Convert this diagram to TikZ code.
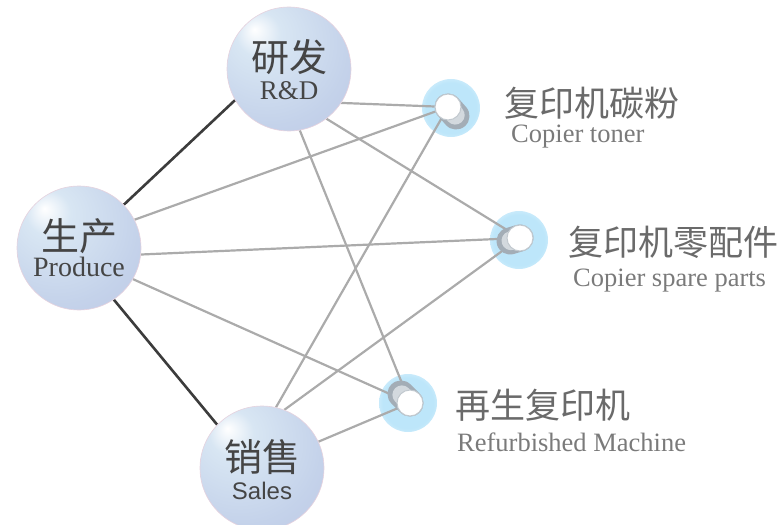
\documentclass[tikz,border=0pt]{standalone}
\usepackage{fontspec}
\setmainfont{Liberation Serif}
\newfontfamily\cjk{Noto Sans CJK SC}
\newfontfamily\latinsans{Liberation Sans}
\usetikzlibrary{positioning}

\definecolor{orbA}{HTML}{D8E6F3}
\definecolor{orbB}{HTML}{C4D2EA}
\definecolor{orbC}{HTML}{BAC2E2}
\definecolor{orbD}{HTML}{D2BFD8}
\definecolor{orbrim}{HTML}{E6D2DE}
\definecolor{glowA}{HTML}{BDE6FA}
\definecolor{linkgray}{HTML}{ABABAB}
\definecolor{tiegray}{HTML}{3C3C3C}
\definecolor{textdark}{HTML}{454545}
\definecolor{textcn}{HTML}{6A6A6A}
\definecolor{texten}{HTML}{7A7A7A}
\definecolor{knobdark}{HTML}{A3ADB6}
\definecolor{knoblight}{HTML}{D3D9DE}
\definecolor{knobedge}{HTML}{C2C9CF}

\pgfdeclareradialshading{orb}{\pgfpoint{-14bp}{16bp}}{color(0bp)=(white);color(9bp)=(orbA);color(32bp)=(orbB);color(55bp)=(orbC);color(66bp)=(orbD);color(75bp)=(orbD)}
\pgfdeclareradialshading{glow}{\pgfpoint{0bp}{0bp}}{color(0bp)=(glowA);color(22bp)=(glowA);color(40bp)=(white);color(50bp)=(white)}

\pgfdeclarelayer{glowlayer}
\pgfdeclarelayer{wires}
\pgfsetlayers{glowlayer,wires,main}

\begin{document}
\begin{tikzpicture}[x=1pt,y=-1pt,
  orb/.style={circle,minimum size=124pt,inner sep=0pt,shade,shading=orb,draw=orbrim,line width=0.6pt},
  knob/.style={circle,minimum size=26pt,inner sep=0pt,fill=white,draw=knobedge,line width=1pt},
  link/.style={draw=linkgray,line width=2.2pt},
  tie/.style={draw=tiegray,line width=2.6pt},
  orbcn/.style={font=\cjk\fontsize{38}{40}\selectfont,text=textdark,inner sep=0pt},
  orben/.style={font=\fontsize{27}{30}\selectfont,text=textdark,inner sep=0pt},
  itemcn/.style={anchor=west,font=\cjk\fontsize{35}{37}\selectfont,text=textcn,inner sep=0pt},
  itemen/.style={anchor=west,font=\fontsize{26.5}{29}\selectfont,text=texten,inner sep=0pt}]
  \useasboundingbox (0,0) rectangle (783,524);
  \clip (0,0) rectangle (783,524);

  \node[orb] (rd) at (289,69) {};
  \node[orb] (pr) at (79,248) {};
  \node[orb] (sa) at (262,468) {};
  \node[orbcn] at ([yshift=12pt]rd.center) {研发};
  \node[orben] at ([yshift=-22pt]rd.center) {R\&D};
  \node[orbcn] at ([yshift=12pt]pr.center) {生产};
  \node[orben,font=\fontsize{28}{30}\selectfont] at ([yshift=-19pt]pr.center) {Produce};
  \node[orbcn] at ([yshift=11pt]sa.center) {销售};
  \node[orben,font=\latinsans\fontsize{24}{28}\selectfont] at ([yshift=-23pt]sa.center) {Sales};

  \node[knob] (toner) at (448,107) {};
  \node[knob] (spare) at (520,238) {};
  \node[knob] (refurb) at (410,403) {};

  \node[itemcn] (tonercn) at (504,103) {复印机碳粉};
  \node[itemen] at (511,137) {Copier toner};
  \node[itemcn] (sparecn) at (568,242) {复印机零配件};
  \node[itemen] at (573,281) {Copier spare parts};
  \node[itemcn] (refurbcn) at (455,405) {再生复印机};
  \node[itemen] at (457,442) {Refurbished Machine};

  \begin{pgfonlayer}{glowlayer}
    \foreach \k/\dx/\dy in {toner/3/1,spare/-1/2,refurb/-2/0}
      \shade[shading=glow] ([shift={(\dx,\dy)}]\k.center) circle (29);
  \end{pgfonlayer}

  \begin{pgfonlayer}{wires}
    \draw[tie] (rd.210) -- (pr.44);
    \draw[tie] (pr.-56) -- (sa.136);
    \draw[link] (rd.-33) -- (toner);
    \draw[link] (rd.-53) -- (spare);
    \draw[link] (rd.-80) -- (refurb);
    \draw[link] (pr.27) -- (toner);
    \draw[link] (pr.-6) -- (spare);
    \draw[link] (pr.-30) -- (refurb);
    \draw[link] (sa.77) -- (toner);
    \draw[link] (sa.69) -- (spare);
    \draw[link] (sa.25) -- (refurb);
    \foreach \k/\dx/\dy in {toner/8/9,spare/-10/3,refurb/-9/-9} {
      \draw[knobdark,line width=27pt,line cap=round] (\k.center) -- ++(\dx,\dy);
      \draw[knoblight,line width=19pt,line cap=round] ([shift={(0.3*\dx,0.3*\dy)}]\k.center) -- ++(0.6*\dx,0.6*\dy);
    }
  \end{pgfonlayer}
\end{tikzpicture}
\end{document}
